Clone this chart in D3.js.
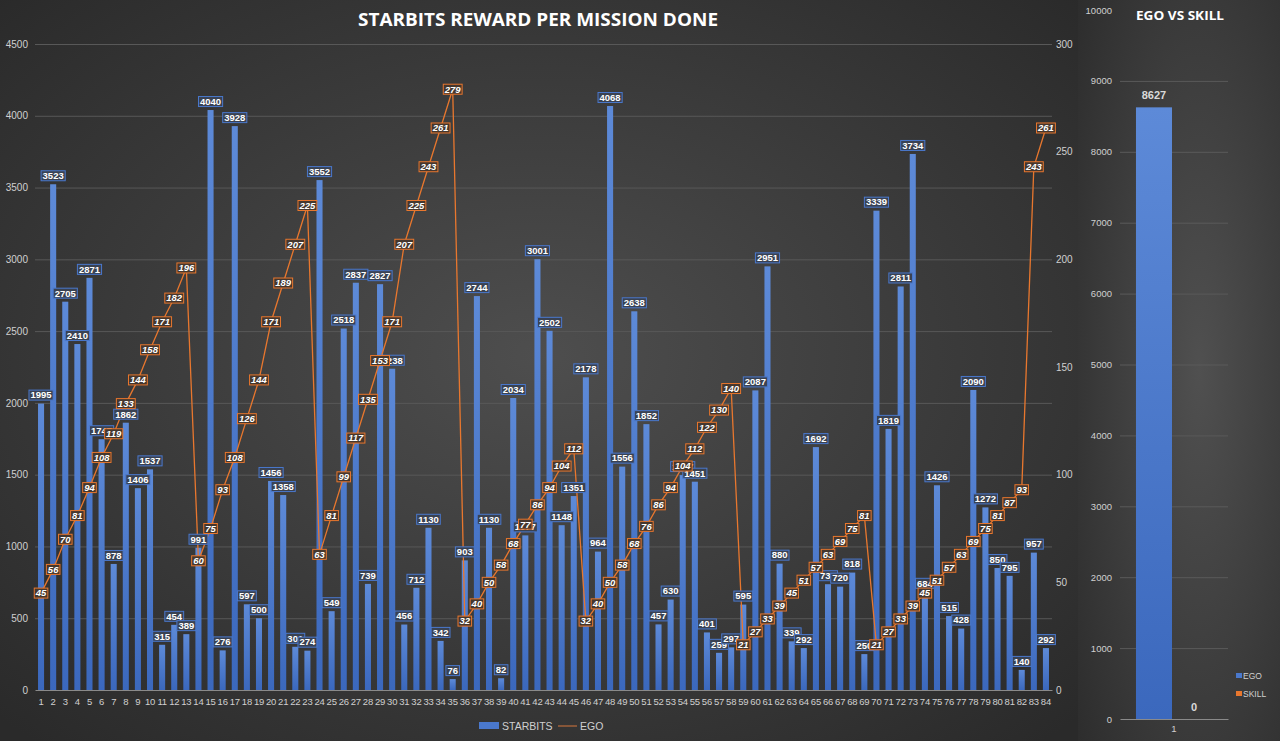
<!DOCTYPE html>
<html>
<head>
<meta charset="utf-8">
<script src="https://cdn.jsdelivr.net/npm/d3@7/dist/d3.min.js"></script>
<style>
body { margin: 0; background: #333; }
svg { display: block; font-family: "Liberation Sans", Arial, sans-serif; }
</style>
</head>
<body>
<svg width="1280" height="741"></svg>
<script>
// mission numbers on the x axis
var missions = [1,2,3,4,5,6,7,8,9,10,11,12,13,14,15,16,17,18,19,20,21,22,23,24,25,26,27,28,
	29,30,31,32,33,34,35,36,37,38,39,40,41,42,43,44,45,46,47,48,49,50,51,52,53,54,55,56,
	57,58,59,60,61,62,63,64,65,66,67,68,69,70,71,72,73,74,75,76,77,78,79,80,81,82,83,84];

var starbits = [1995,3523,2705,2410,2871,1747,878,1862,1406,1537,315,454,389,991,4040,276,
	3928,597,500,1456,1358,301,274,3552,549,2518,2837,739,2827,2238,456,712,1130,342,76,903,
	2744,1130,82,2034,1077,3001,2502,1148,1351,2178,964,4068,1556,2638,1852,457,630,1497,1451,
	401,259,297,595,2087,2951,880,339,292,1692,737,720,818,250,3339,1819,2811,3734,684,1426,
	515,428,2090,1272,850,795,140,957,292];

var ego = [45,56,70,81,94,108,119,133,144,158,171,182,196,60,75,93,108,126,144,171,189,207,
	225,63,81,99,117,135,153,171,207,225,243,261,279,32,40,50,58,68,77,86,94,104,112,32,40,
	50,58,68,76,86,94,104,112,122,130,140,21,27,33,39,45,51,57,63,69,75,81,21,27,33,39,45,
	51,57,63,69,75,81,87,93,243,261];

var leftTicks = [0,500,1000,1500,2000,2500,3000,3500,4000,4500];
var rightTicks = [0,50,100,150,200,250,300];

// side chart: ego vs skill
var sideGroups = ["1"];
var sideSeries = ["EGO", "SKILL"];
var sideValues = [8627, 0];
var sideTicks = [0,1000,2000,3000,4000,5000,6000,7000,8000,9000,10000];

var blue = "#4a78cc", orange = "#e8772e", axisText = "#d0d0d0";
var plain = d3.format("d");

var svg = d3.select("svg");
var defs = svg.append("defs");

var bgMain = defs.append("radialGradient").attr("id", "bgMain")
	.attr("cx", "50%").attr("cy", "48%").attr("r", "70%");
bgMain.append("stop").attr("offset", "0%").attr("stop-color", "#4e4e4e");
bgMain.append("stop").attr("offset", "100%").attr("stop-color", "#2a2a2a");

var bgSide = defs.append("radialGradient").attr("id", "bgSide")
	.attr("cx", "60%").attr("cy", "50%").attr("r", "80%");
bgSide.append("stop").attr("offset", "0%").attr("stop-color", "#505050");
bgSide.append("stop").attr("offset", "100%").attr("stop-color", "#2c2c2c");

var barGrad = defs.append("linearGradient").attr("id", "barGrad")
	.attr("x1", 0).attr("y1", 0).attr("x2", 0).attr("y2", 1);
barGrad.append("stop").attr("offset", "0%").attr("stop-color", "#5d8ad8");
barGrad.append("stop").attr("offset", "100%").attr("stop-color", "#3b68bd");

svg.append("rect").attr("width", 1078).attr("height", 741).attr("fill", "url(#bgMain)");
svg.append("rect").attr("x", 1078).attr("width", 202).attr("height", 741).attr("fill", "url(#bgSide)");

// ---------- main chart ----------
var x = d3.scaleBand().domain(missions).range([35, 1052]).paddingInner(0.5).paddingOuter(0.25);
var y = d3.scaleLinear().domain([0, 4500]).range([690, 44]);
var yR = d3.scaleLinear().domain([0, 300]).range([690, 44]);

svg.append("text")
	.attr("x", 538).attr("y", 26)
	.attr("text-anchor", "middle")
	.attr("font-family", "'Open Sans', sans-serif")
	.attr("font-weight", "bold")
	.attr("font-size", 18)
	.attr("textLength", 360)
	.attr("lengthAdjust", "spacingAndGlyphs")
	.attr("fill", "#ffffff")
	.text("STARBITS REWARD PER MISSION DONE");

svg.append("g").selectAll("line")
	.data(leftTicks.slice(1))
	.enter().append("line")
	.attr("x1", 35).attr("x2", 1052)
	.attr("y1", function(d) { return y(d) + 0.5; })
	.attr("y2", function(d) { return y(d) + 0.5; })
	.attr("stroke", "#585858");

var gl = svg.append("g").attr("transform", "translate(31,0)")
	.call(d3.axisLeft(y).tickValues(leftTicks).tickFormat(plain).tickSize(0).tickPadding(3));
var gr = svg.append("g").attr("transform", "translate(1052,0)")
	.call(d3.axisRight(yR).tickValues(rightTicks).tickFormat(plain).tickSize(0).tickPadding(4));
var gx = svg.append("g").attr("transform", "translate(0,690)")
	.call(d3.axisBottom(x).tickSize(0).tickPadding(8));

[gl, gr].forEach(function(g) {
	g.selectAll("text").attr("fill", axisText).attr("font-size", 10)
		.attr("font-family", "'Liberation Sans', Arial, sans-serif");
});
gx.selectAll("text").attr("fill", axisText).attr("font-size", 9.5)
	.attr("letter-spacing", -0.2)
	.attr("font-family", "'Liberation Sans', Arial, sans-serif");
gl.select(".domain").remove();
gr.select(".domain").remove();
gx.select(".domain").attr("stroke", "#8a8a8a");

svg.append("g").selectAll("rect")
	.data(starbits)
	.enter().append("rect")
	.attr("x", function(d, i) { return x(missions[i]); })
	.attr("y", function(d) { return y(d); })
	.attr("width", x.bandwidth())
	.attr("height", function(d) { return 690 - y(d); })
	.attr("fill", "url(#barGrad)");

var line = d3.line()
	.x(function(d, i) { return x(missions[i]) + x.bandwidth() / 2; })
	.y(function(d) { return yR(d); });

svg.append("path")
	.datum(ego)
	.attr("d", line)
	.attr("fill", "none")
	.attr("stroke", orange)
	.attr("stroke-width", 1.3);

// boxed data label
function boxLabel(g, cx, cy, txt, stroke, fill, italic) {
	var lg = g.append("g");
	var r = lg.append("rect");
	var t = lg.append("text")
		.attr("x", cx).attr("y", cy)
		.attr("dy", "0.35em")
		.attr("text-anchor", "middle")
		.attr("font-size", 9.5)
		.attr("font-weight", "bold")
		.attr("font-style", italic ? "italic" : "normal")
		.attr("fill", "#ffffff")
		.text(txt);
	var w = t.node().getComputedTextLength() + 3;
	r.attr("x", cx - w / 2).attr("y", cy - 5)
		.attr("width", w).attr("height", 10)
		.attr("fill", fill).attr("stroke", stroke).attr("stroke-width", 1);
}

var barLabels = svg.append("g");
starbits.forEach(function(d, i) {
	boxLabel(barLabels, x(missions[i]) + x.bandwidth() / 2, y(d) - 8.5, d, blue, "#3a4252", false);
});

var egoLabels = svg.append("g");
ego.forEach(function(d, i) {
	boxLabel(egoLabels, x(missions[i]) + x.bandwidth() / 2, yR(d), d, orange, "#45372e", true);
});

// legend
var leg = svg.append("g");
leg.append("rect").attr("x", 479).attr("y", 722).attr("width", 20).attr("height", 7).attr("fill", blue);
leg.append("text").attr("x", 502).attr("y", 729.5).attr("font-size", 10.5).attr("fill", axisText).text("STARBITS");
leg.append("line").attr("x1", 558).attr("x2", 577).attr("y1", 726).attr("y2", 726)
	.attr("stroke", "#a0603a").attr("stroke-width", 1.5);
leg.append("text").attr("x", 580).attr("y", 729.5).attr("font-size", 10.5).attr("fill", axisText).text("EGO");

// ---------- side chart ----------
var x2 = d3.scaleBand().domain(sideGroups).range([1120, 1228]).paddingOuter(0.21);
var xs = d3.scaleBand().domain(sideSeries).range([0, x2.bandwidth()]).paddingInner(0.1);
var y2 = d3.scaleLinear().domain([0, 10000]).range([719, 10]);

svg.append("text")
	.attr("x", 1180).attr("y", 20)
	.attr("text-anchor", "middle")
	.attr("font-family", "'Open Sans', sans-serif")
	.attr("font-weight", "bold")
	.attr("font-size", 12.5)
	.attr("textLength", 88)
	.attr("lengthAdjust", "spacingAndGlyphs")
	.attr("fill", "#ffffff")
	.text("EGO VS SKILL");

svg.append("g").selectAll("line")
	.data(sideTicks.slice(1, -1))
	.enter().append("line")
	.attr("x1", 1120).attr("x2", 1228)
	.attr("y1", function(d) { return y2(d) + 0.5; })
	.attr("y2", function(d) { return y2(d) + 0.5; })
	.attr("stroke", "#5a5a5a");

var gs = svg.append("g").attr("transform", "translate(1114,0)")
	.call(d3.axisLeft(y2).tickValues(sideTicks).tickFormat(plain).tickSize(0).tickPadding(2));
gs.select(".domain").remove();
var gsx = svg.append("g").attr("transform", "translate(0,719)")
	.call(d3.axisBottom(x2).tickSize(0).tickPadding(6));
gsx.select(".domain").attr("stroke", "#8a8a8a");
[gs, gsx].forEach(function(g) {
	g.selectAll("text").attr("fill", axisText).attr("font-size", 9.5)
		.attr("font-family", "'Liberation Sans', Arial, sans-serif");
});

var sideColors = [blue, orange];
var sg = svg.append("g").attr("transform", "translate(" + x2("1") + ",0)");
sg.selectAll("rect")
	.data(sideValues)
	.enter().append("rect")
	.attr("x", function(d, i) { return xs(sideSeries[i]); })
	.attr("y", function(d) { return y2(d); })
	.attr("width", xs.bandwidth())
	.attr("height", function(d) { return 719 - y2(d); })
	.attr("fill", function(d, i) { return i == 0 ? "url(#barGrad)" : sideColors[i]; });
sg.selectAll("text")
	.data(sideValues)
	.enter().append("text")
	.attr("x", function(d, i) { return xs(sideSeries[i]) + xs.bandwidth() / 2; })
	.attr("y", function(d) { return y2(d) - 8; })
	.attr("text-anchor", "middle")
	.attr("font-size", 11)
	.attr("font-weight", "bold")
	.attr("fill", "#d9d9d9")
	.text(function(d) { return d; });

var sl = svg.append("g");
sideSeries.forEach(function(s, i) {
	sl.append("rect").attr("x", 1236).attr("y", 673 + i * 18).attr("width", 6).attr("height", 5)
		.attr("fill", sideColors[i]);
	sl.append("text").attr("x", 1243).attr("y", 678.5 + i * 18)
		.attr("font-size", 8.5).attr("fill", axisText).text(s);
});
</script>
</body>
</html>
